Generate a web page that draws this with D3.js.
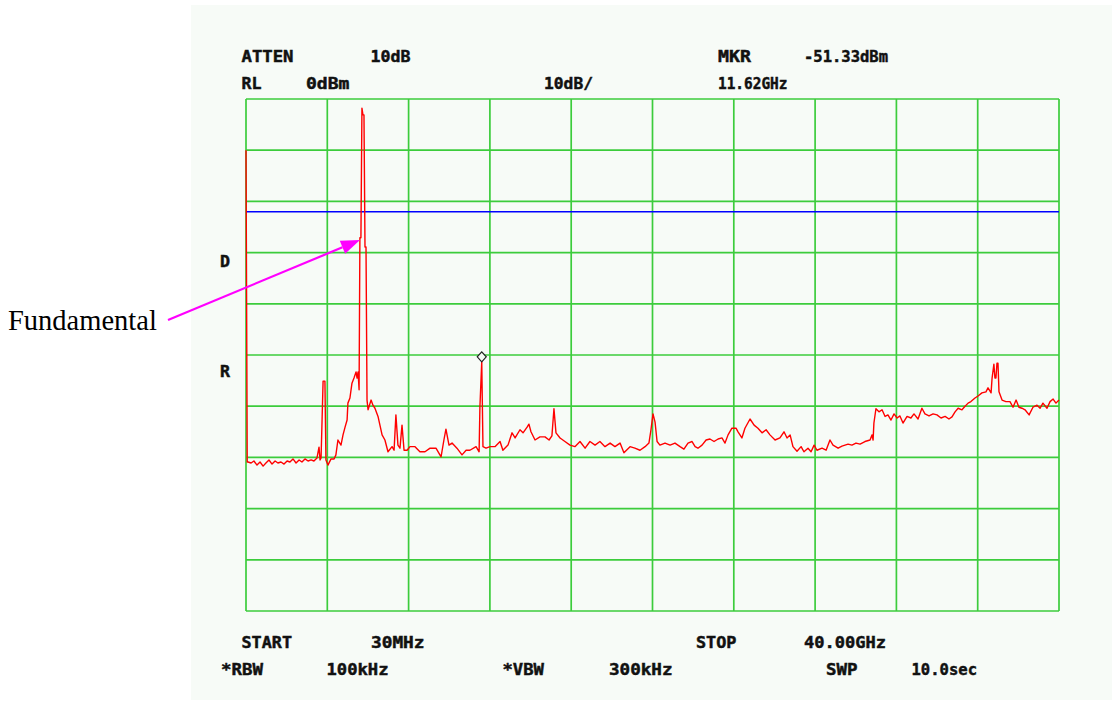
<!DOCTYPE html>
<html><head><meta charset="utf-8">
<script src="https://cdn.jsdelivr.net/npm/d3@7"></script>
<style>
html,body{margin:0;padding:0;background:#ffffff;}
svg{display:block;}
.lbl{font-family:"DejaVu Sans Mono",monospace;font-weight:bold;font-size:15px;fill:#111;stroke:#111;stroke-width:0.45px;}
</style></head>
<body>
<svg id="chart" width="1112" height="702"></svg>
<script>
// ---- data ----
const startGHz = 0.03, stopGHz = 40.0;
const refLevel = 0, bottomLevel = -100;           // dBm, 10 dB/div
const xDivs = d3.range(0, 11);                      // 10 horizontal divisions
const yDivs = d3.range(0, 11);                      // 10 vertical divisions
const displayLine = -22;                            // dBm (blue line)
const marker = {f: 11.62, level: -51.33};
const headerLabels = ["ATTEN","10dB","RL","0dBm","10dB/","MKR","-51.33dBm","11.62GHz"];
const sideLabels = ["D","R"];
const footerLabels = ["START","30MHz","STOP","40.00GHz","*RBW","100kHz","*VBW","300kHz","SWP","10.0sec"];
// trace: [frequency GHz, level dBm]
const trace = [
[0.03,-10.0],[0.06,-39.8],[0.09,-70.9],[0.13,-70.9],[0.28,-71.1],[0.42,-70.7],[0.57,-71.5],[0.72,-70.9],
[0.87,-71.7],[1.01,-71.1],[1.16,-70.5],[1.31,-71.3],[1.46,-70.7],[1.60,-71.1],[1.75,-70.9],[1.90,-71.3],
[2.05,-70.7],[2.19,-70.9],[2.34,-70.3],[2.49,-71.1],[2.64,-70.5],[2.78,-70.9],[2.93,-70.3],[3.08,-70.7],
[3.23,-70.5],[3.37,-70.7],[3.52,-70.1],[3.62,-68.0],[3.67,-70.5],[3.72,-70.1],[3.77,-62.7],[3.82,-55.1],
[3.91,-55.1],[3.96,-70.5],[4.06,-71.5],[4.21,-70.3],[4.36,-70.3],[4.45,-69.5],[4.55,-66.6],[4.70,-67.6],
[4.80,-65.6],[4.90,-64.1],[5.00,-62.7],[5.04,-59.4],[5.14,-58.4],[5.24,-55.5],[5.34,-54.5],[5.44,-53.3],
[5.49,-54.5],[5.54,-53.3],[5.59,-56.8],[5.63,-27.1],[5.68,-27.1],[5.73,-1.8],[5.78,-3.1],[5.83,-3.1],
[5.88,-28.9],[5.93,-28.9],[5.98,-58.8],[6.03,-60.7],[6.18,-58.8],[6.27,-59.8],[6.37,-60.4],[6.52,-62.0],
[6.72,-65.6],[6.86,-66.6],[7.01,-68.9],[7.21,-67.9],[7.31,-68.6],[7.40,-61.7],[7.50,-67.6],[7.60,-68.2],
[7.70,-63.7],[7.80,-68.6],[7.95,-68.6],[8.09,-67.9],[8.34,-67.9],[8.58,-68.9],[8.83,-68.9],[9.08,-68.2],
[9.37,-68.2],[9.62,-69.9],[9.76,-66.6],[9.86,-64.5],[10.01,-67.6],[10.16,-67.2],[10.40,-68.2],[10.65,-69.5],
[10.85,-68.6],[11.04,-68.6],[11.34,-67.9],[11.49,-68.9],[11.53,-60.2],[11.62,-51.33],[11.68,-67.9],[11.83,-68.2],
[12.03,-67.9],[12.27,-67.9],[12.52,-66.9],[12.66,-68.6],[12.91,-67.6],[13.11,-65.2],[13.26,-66.2],[13.50,-64.6],
[13.65,-65.2],[13.85,-64.1],[13.94,-63.5],[14.04,-65.0],[14.24,-66.6],[14.48,-66.0],[14.73,-66.0],[14.93,-66.6],
[15.07,-65.8],[15.17,-60.5],[15.27,-65.2],[15.47,-66.2],[15.71,-66.9],[15.96,-67.6],[16.20,-67.9],[16.45,-66.9],
[16.70,-68.2],[16.94,-66.9],[17.19,-67.6],[17.43,-66.9],[17.68,-67.9],[17.93,-67.2],[18.17,-67.9],[18.42,-67.2],
[18.61,-69.1],[18.91,-67.9],[19.15,-68.2],[19.40,-68.6],[19.65,-67.9],[19.84,-67.2],[19.94,-64.6],[20.04,-61.5],
[20.14,-63.1],[20.24,-66.9],[20.38,-67.6],[20.63,-67.2],[20.88,-67.6],[21.12,-67.2],[21.37,-67.9],[21.56,-68.4],
[21.76,-67.2],[21.96,-66.9],[22.11,-67.9],[22.25,-68.2],[22.45,-67.6],[22.65,-66.6],[22.84,-66.4],[23.04,-66.9],
[23.24,-66.4],[23.43,-66.2],[23.58,-67.2],[23.73,-65.6],[23.92,-64.3],[24.12,-64.3],[24.22,-65.0],[24.41,-66.2],
[24.56,-64.3],[24.81,-62.5],[25.01,-63.7],[25.20,-64.3],[25.40,-65.2],[25.60,-64.6],[25.79,-65.6],[26.04,-66.6],
[26.28,-66.2],[26.48,-65.0],[26.63,-66.2],[26.78,-65.6],[26.92,-67.9],[27.12,-68.8],[27.32,-67.9],[27.46,-68.9],
[27.66,-68.2],[27.81,-68.9],[27.96,-67.6],[28.10,-68.6],[28.35,-68.2],[28.55,-68.6],[28.74,-66.6],[28.89,-67.6],
[29.14,-68.2],[29.33,-67.8],[29.63,-67.4],[29.82,-67.6],[30.02,-67.2],[30.22,-67.4],[30.46,-66.9],[30.71,-66.6],
[30.81,-65.6],[30.86,-66.6],[30.90,-63.3],[31.00,-60.5],[31.15,-61.1],[31.30,-60.7],[31.45,-62.0],[31.59,-61.7],
[31.74,-62.7],[31.89,-61.5],[32.04,-62.3],[32.18,-61.9],[32.33,-63.3],[32.53,-62.0],[32.72,-62.3],[32.87,-61.5],
[33.07,-62.5],[33.26,-60.4],[33.41,-61.5],[33.61,-61.9],[33.81,-61.5],[34.00,-61.7],[34.20,-62.3],[34.40,-62.0],
[34.59,-62.5],[34.74,-62.1],[34.89,-61.1],[35.04,-60.4],[35.23,-60.7],[35.38,-60.0],[35.53,-59.4],[35.67,-59.1],
[35.87,-58.4],[36.02,-58.0],[36.21,-57.4],[36.41,-57.2],[36.51,-56.4],[36.66,-57.4],[36.71,-54.5],[36.80,-51.8],
[36.85,-54.5],[36.90,-54.5],[36.95,-51.6],[37.00,-51.6],[37.05,-57.2],[37.20,-58.8],[37.39,-59.1],[37.59,-59.1],
[37.74,-60.2],[37.89,-58.8],[38.03,-60.2],[38.18,-60.4],[38.33,-60.7],[38.53,-61.7],[38.72,-60.2],[38.92,-59.8],
[39.07,-60.4],[39.21,-59.4],[39.41,-60.4],[39.56,-59.1],[39.71,-58.6],[39.85,-59.4],[40.00,-58.8]
];

// ---- drawing ----
const svg = d3.select("#chart");
const plot = {left:246, right:1059, top:99, bottom:611};

svg.append("rect").attr("x",191).attr("y",5).attr("width",921).attr("height",695).attr("fill","#f7fbf7");

const x = d3.scaleLinear().domain([startGHz, stopGHz]).range([plot.left, plot.right]);
const y = d3.scaleLinear().domain([bottomLevel, refLevel]).range([plot.bottom, plot.top]);
const xd = d3.scaleLinear().domain([0,10]).range([plot.left, plot.right]);
const yd = d3.scaleLinear().domain([0,10]).range([plot.top, plot.bottom]);

const grid = svg.append("g").attr("stroke","#3ccc3c").attr("stroke-width",1.7).attr("fill","none");
grid.selectAll("line.v").data(xDivs).join("line").attr("class","v")
  .attr("x1",d=>xd(d)).attr("x2",d=>xd(d)).attr("y1",plot.top).attr("y2",plot.bottom);
grid.selectAll("line.h").data(yDivs).join("line").attr("class","h")
  .attr("y1",d=>yd(d)).attr("y2",d=>yd(d)).attr("x1",plot.left).attr("x2",plot.right);

// display line
svg.append("line").attr("x1",plot.left).attr("x2",plot.right)
  .attr("y1",y(displayLine)).attr("y2",y(displayLine))
  .attr("stroke","#0000ff").attr("stroke-width",1.5);

// trace
const line = d3.line().x(d=>x(d[0])).y(d=>y(d[1]));
svg.append("path").datum(trace).attr("d",line)
  .attr("fill","none").attr("stroke","#ff0000").attr("stroke-width",1.4).attr("stroke-linejoin","round");

// marker diamond
const mx = x(marker.f), my = y(marker.level) - 5;
svg.append("path").attr("d",`M${mx},${my-5}L${mx+4.5},${my}L${mx},${my+5}L${mx-4.5},${my}Z`)
  .attr("fill","#f7fbf7").attr("stroke","#222").attr("stroke-width",1.2);

// labels  [text, x, baseline, width]
const T = (t,px,py,w)=>svg.append("text").attr("class","lbl").attr("x",px).attr("y",py)
  .attr("textLength",w).attr("lengthAdjust","spacingAndGlyphs").text(t);
T(headerLabels[0],241.5,62,52); T(headerLabels[1],370.5,62,40);
T(headerLabels[2],241.5,89,20); T(headerLabels[3],306,89,43.5);
T(headerLabels[4],544,89,49);
T(headerLabels[5],718,62,33); T(headerLabels[6],804,62,84);
T(headerLabels[7],718,89,69.5);
T(sideLabels[0],220,267,10); T(sideLabels[1],220,377,10);
T(footerLabels[0],241.5,648,50.5); T(footerLabels[1],371,648,53.5);
T(footerLabels[2],696,648,40.5); T(footerLabels[3],804,648,82);
T(footerLabels[4],221,675,42); T(footerLabels[5],326.5,675,62);
T(footerLabels[6],502.5,675,41.5); T(footerLabels[7],609,675,63.5);
T(footerLabels[8],826,675,31.5); T(footerLabels[9],911.5,675,65.5);

// annotation
svg.append("text").attr("x",8).attr("y",330)
  .attr("font-family","'Liberation Serif','Times New Roman',serif").attr("font-size",28.5)
  .attr("fill","#000").text("Fundamental");
const ax0=168, ay0=320, ax1=360, ay1=240;
const ang = Math.atan2(ay1-ay0, ax1-ax0);
const hl = 19, hw = 7;
const bx = ax1 - hl*Math.cos(ang), by = ay1 - hl*Math.sin(ang);
svg.append("line").attr("x1",ax0).attr("y1",ay0).attr("x2",bx).attr("y2",by)
  .attr("stroke","#ff00ff").attr("stroke-width",2.2);
svg.append("path").attr("d",`M${ax1},${ay1}L${bx - hw*Math.sin(ang)},${by + hw*Math.cos(ang)}L${bx + hw*Math.sin(ang)},${by - hw*Math.cos(ang)}Z`)
  .attr("fill","#ff00ff");
</script>
</body></html>
